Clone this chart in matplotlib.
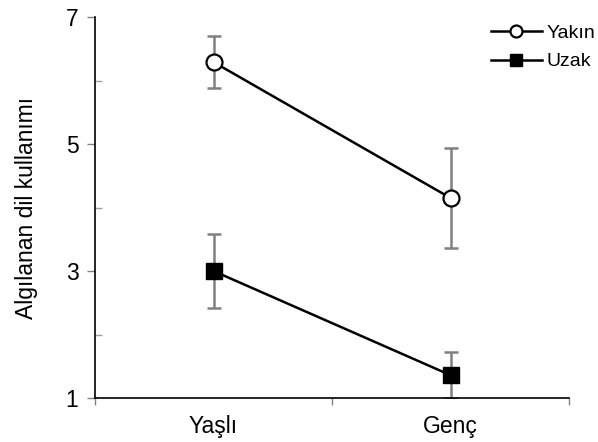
import matplotlib
matplotlib.use("Agg")
import matplotlib.pyplot as plt
import numpy as np

categories = ["Yaşlı", "Genç"]
yakin = [6.29, 4.15]
yakin_err = [0.41, 0.78]
uzak = [3.00, 1.36]
uzak_err = [0.58, 0.36]

plt.rcParams['font.family'] = ['Liberation Sans', 'DejaVu Sans']

fig = plt.figure(figsize=(5.98, 4.42), dpi=100)
ax = fig.add_axes([0.1589, 0.0995, 0.7926, 0.862])

xpos = np.array([0.5, 1.5])
ax.errorbar(xpos, yakin, yerr=yakin_err, fmt='none', ecolor='#808080', elinewidth=1.8, capsize=5, capthick=1.8, zorder=2)
ax.errorbar(xpos, uzak, yerr=uzak_err, fmt='none', ecolor='#808080', elinewidth=1.8, capsize=5, capthick=1.8, zorder=2)
l1, = ax.plot(xpos, yakin, '-o', color='black', lw=1.8, markersize=11.5, markerfacecolor='white',
              markeredgecolor='black', markeredgewidth=1.6, label='Yakın', zorder=3)
l2, = ax.plot(xpos, uzak, '-s', color='black', lw=1.8, markersize=11.5, markerfacecolor='black',
              markeredgecolor='black', label='Uzak', zorder=3)

ax.set_xlim(0, 2)
ax.set_ylim(1, 7)
ax.set_yticks([1, 3, 5, 7])
ax.set_yticks([2, 4, 6], minor=True)
ax.set_xticks([0, 1, 2])
ax.set_xticklabels([])
ax.set_xticks(xpos, minor=True)
ax.set_xticklabels(categories, minor=True, fontsize=16.5)
ax.tick_params(axis='x', which='minor', length=0, pad=12)
ax.tick_params(axis='x', which='major', length=5, color='#808080', width=1, direction='out')
ax.tick_params(axis='y', which='major', length=6, color='#808080', width=1, labelsize=16.5, direction='out', pad=6)
ax.tick_params(axis='y', which='minor', length=5, color='#a0a0a0', width=1, direction='in')

for s in ['top', 'right']:
    ax.spines[s].set_visible(False)
for s in ['left', 'bottom']:
    ax.spines[s].set_linewidth(1.2)
    ax.spines[s].set_color('black')

ax.set_ylabel("Algılanan dil kullanımı", fontsize=16.5, labelpad=20)

leg = fig.legend(handles=[l1, l2], loc='upper left', bbox_to_anchor=(0.808, 0.962), frameon=False,
                 fontsize=14, markerscale=0.75, handlelength=2.6, handletextpad=0.25, labelspacing=0.55,
                 borderaxespad=0)

fig.savefig("out.png", dpi=100)
